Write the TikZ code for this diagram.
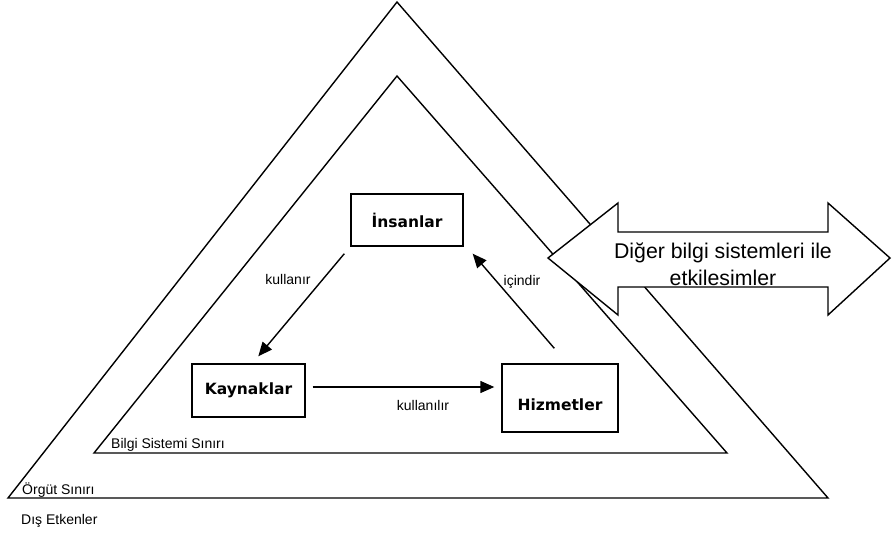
\documentclass[tikz,border=0pt]{standalone}
\usepackage{fontspec}
\setmainfont{Liberation Sans}
\newfontfamily\boxfont{DejaVu Sans}
\usetikzlibrary{
    arrows.meta,
    positioning
}
\tikzset{
    % Lines
    border line/.style={line width=1.4pt,line join=miter},
    %
    % Boxes
    box/.style={draw,line width=1.4pt,inner sep=0pt,minimum width=112pt,minimum height=52pt},
    box text/.style={font=\boxfont\bfseries\fontsize{15.5}{18}\selectfont},
    side label/.style={anchor=base west,inner sep=0pt},
    %
    % Arrows
    arrow tip/.tip={Triangle[length=14pt,width=12pt]},
    arr/.style={->,>={arrow tip},line width=1.4pt}
}
\tikzstyle{every node}=[font=\fontsize{14}{17}\selectfont]

\begin{document}
\begin{tikzpicture}[x=1pt,y=-1pt]
        \useasboundingbox (0,0) rectangle (892,535);
        % boundaries
        \draw[border line] (397,2) -- (828,498) -- (8,498) -- cycle;
        \draw[border line] (397,76) -- (727,453) -- (94,453) -- cycle;
        \node[side label] (bss) at (111,448) {Bilgi Sistemi Sınırı};
        \node[side label] (ors) at (22,494) {Örgüt Sınırı};
        \node[side label] (dis) at (21,524) {Dış Etkenler};

        % double arrow
        \draw[border line,fill=white] (548,258) -- (618,203) -- (618,232) -- (828,232) -- (828,203) -- (890,258)
            -- (828,315) -- (828,287) -- (618,287) -- (618,315) -- cycle;
        \node[align=center,inner sep=0pt,font=\fontsize{21.3}{27.5}\selectfont] (etki) at (723,264) {Diğer bilgi sistemleri ile\\etkilesimler};

        % boxes
        \node[box,box text] (ins) at (407,220) {İnsanlar};
        \node[box,box text,minimum width=113pt,minimum height=53pt] (kay) at (248.5,390.5) {Kaynaklar};
        \node[box,minimum width=116pt,minimum height=68pt,label={[box text,yshift=-7pt]center:Hizmetler}] (hiz) at (560,398) {};

        \draw[arr] ([shift={(-6,7)}]ins.south west) -- ([shift={(67,-7)}]kay.north west);
        \draw[arr] ([shift={(7,-3.5)}]kay.east) -- ([shift={(-7,-11)}]hiz.west);
        \draw[arr] ([shift={(53,-15)}]hiz.north west) -- ([shift={(9,7)}]ins.south east);
        \node (kul) at (288,279) {kullanır};
        \node (kull) at (423,405) {kullanılır};
        \node (ici) at (522,282) {içindir};
    \end{tikzpicture}
\end{document}
